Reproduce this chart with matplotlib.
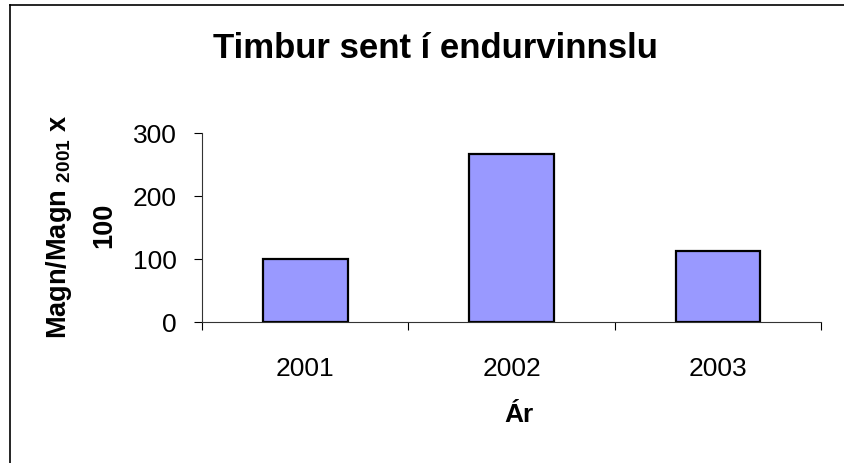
import numpy as np
import matplotlib.pyplot as plt
from matplotlib.lines import Line2D

plt.rcParams['font.family'] = ['Liberation Sans', 'DejaVu Sans']
plt.rcParams['mathtext.fontset'] = 'custom'
plt.rcParams['mathtext.rm'] = 'Liberation Sans'
plt.rcParams['mathtext.bf'] = 'Liberation Sans:bold'

# gogn
years = ['2001', '2002', '2003']
values = [100, 267, 112]
yticks = [0, 100, 200, 300]

W, H = 845, 463
fig = plt.figure(figsize=(W / 100, H / 100), dpi=100)
ax = fig.add_axes([0.239, 0.3045, 0.733, 0.408])

x = np.arange(len(years)) + 0.5
ax.bar(x, values, width=0.41, color='#9999FF', edgecolor='black', linewidth=1.6)

ax.set_xlim(0, len(years))
ax.set_ylim(0, 300)
ax.set_yticks(yticks)
ax.tick_params(axis='y', direction='out', length=6, width=0.8, labelsize=19, pad=12)

# flokkar: merki a milli flokka, textar i midju
ax.set_xticks(np.arange(len(years) + 1))
ax.set_xticklabels([])
ax.tick_params(axis='x', direction='out', length=6, width=0.8)
ax.set_xticks(x, minor=True)
ax.set_xticklabels(years, minor=True)
ax.tick_params(axis='x', which='minor', length=0, labelsize=19, pad=25)

for s in ['top', 'right']:
    ax.spines[s].set_visible(False)
for s in ['left', 'bottom']:
    ax.spines[s].set_linewidth(0.8)
    ax.spines[s].set_color('#333333')

fig.text(519 / W, 1 - 415 / H, 'Ár', fontsize=19, fontweight='bold',
         ha='center', va='center')

# y-as titill i tveimur linum
fig.text(59 / W, 1 - 227 / H, 'Magn/Magn $_{\\mathbf{2001}}$ x', fontsize=19.5,
         fontweight='bold', rotation=90, ha='center', va='center')
fig.text(104 / W, 1 - 225 / H, '100', fontsize=19.5, fontweight='bold',
         rotation=90, ha='center', va='center')

fig.text(435 / W, 1 - 48 / H, 'Timbur sent í endurvinnslu', fontsize=25,
         fontweight='bold', ha='center', va='center')

# rammi (adeins efri og vinstri sjast)
fig.add_artist(Line2D([10 / W, 1], [1 - 5 / H, 1 - 5 / H],
                      transform=fig.transFigure, color='black', lw=1.2))
fig.add_artist(Line2D([10 / W, 10 / W], [0, 1 - 5 / H],
                      transform=fig.transFigure, color='black', lw=1.2))

fig.savefig('out.png', dpi=100)
